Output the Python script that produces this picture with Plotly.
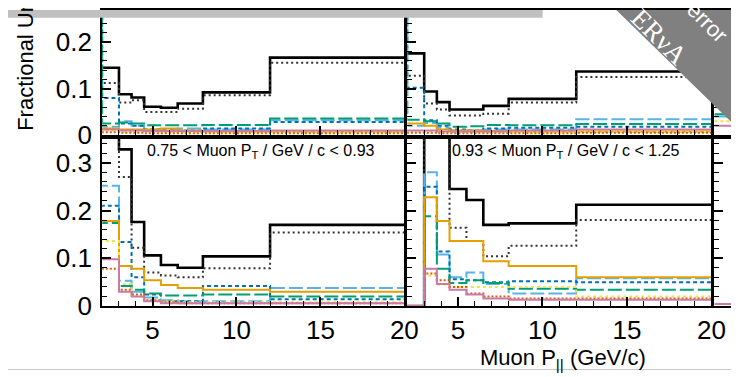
import plotly.graph_objects as go

W, H = 739, 377

# Muon P_parallel bin edges (GeV/c)
pz_edges = [1.5, 2, 3, 3.75, 4.5, 5.5, 6.5, 8, 12, 20]

# ---- top-left panel (lower PT bin, cropped) ----
tl_total = [0.145, 0.145, 0.088, 0.081, 0.061, 0.059, 0.068, 0.092, 0.167]
tl_stat = [0.112, 0.112, 0.070, 0.075, 0.050, 0.050, 0.057, 0.086, 0.156]
tl_lightblue = [0.018, 0.018, 0.030, 0.020, 0.012, 0.012, 0.014, 0.012, 0.032]
tl_blue = [0.600, 0.080, 0.025, 0.020, 0.012, 0.010, 0.010, 0.014, 0.028]
tl_green = [0.600, 0.025, 0.027, 0.025, 0.021, 0.021, 0.021, 0.022, 0.036]
tl_orange = [0.014, 0.014, 0.012, 0.012, 0.012, 0.014, 0.010, 0.008, 0.008]
tl_yellow = [0.010, 0.010, 0.008, 0.008, 0.008, 0.006, 0.006, 0.006, 0.006]
tl_vermilion = [0.006, 0.006, 0.005, 0.005, 0.004, 0.004, 0.004, 0.004, 0.004]
tl_pink = [0.012, 0.012, 0.010, 0.010, 0.009, 0.009, 0.009, 0.009, 0.010]

# ---- top-right panel ----
tr_total = [0.176, 0.176, 0.094, 0.071, 0.055, 0.055, 0.063, 0.078, 0.137]
tr_stat = [0.128, 0.128, 0.068, 0.055, 0.042, 0.042, 0.046, 0.070, 0.125]
tr_lightblue = [0.020, 0.020, 0.026, 0.016, 0.010, 0.010, 0.012, 0.012, 0.034]
tr_blue = [0.600, 0.102, 0.032, 0.020, 0.012, 0.010, 0.014, 0.016, 0.018]
tr_green = [0.600, 0.033, 0.030, 0.025, 0.018, 0.019, 0.022, 0.021, 0.024]
tr_orange = [0.025, 0.025, 0.020, 0.012, 0.010, 0.010, 0.009, 0.008, 0.008]
tr_yellow = [0.008, 0.008, 0.008, 0.007, 0.006, 0.006, 0.006, 0.006, 0.007]
tr_vermilion = [0.005, 0.005, 0.005, 0.004, 0.004, 0.004, 0.004, 0.004, 0.005]
tr_pink = [0.010, 0.010, 0.010, 0.008, 0.008, 0.008, 0.008, 0.010, 0.012]

# ---- bottom-left panel: 0.75 < PT < 0.93 ----
bl_total = [0.500, 0.500, 0.328, 0.176, 0.106, 0.086, 0.080, 0.104, 0.170]
bl_stat = [0.450, 0.450, 0.270, 0.122, 0.070, 0.064, 0.060, 0.079, 0.154]
bl_lightblue = [0.252, 0.252, 0.053, 0.030, 0.018, 0.012, 0.010, 0.010, 0.038]
bl_blue = [0.210, 0.210, 0.134, 0.060, 0.024, 0.010, 0.010, 0.042, 0.014]
bl_green = [0.174, 0.174, 0.042, 0.034, 0.026, 0.022, 0.022, 0.024, 0.020]
bl_orange = [0.178, 0.178, 0.084, 0.078, 0.054, 0.044, 0.038, 0.034, 0.030]
bl_yellow = [0.136, 0.136, 0.046, 0.020, 0.012, 0.010, 0.008, 0.008, 0.008]
bl_vermilion = [0.078, 0.078, 0.034, 0.024, 0.012, 0.008, 0.006, 0.006, 0.006]
bl_pink = [0.098, 0.098, 0.030, 0.020, 0.010, 0.006, 0.006, 0.006, 0.006]

# ---- bottom-right panel: 0.93 < PT < 1.25 ----
br_total = [0.0, 0.0, 0.600, 0.500, 0.245, 0.222, 0.170, 0.173, 0.212]
br_stat = [0.0, 0.0, 0.500, 0.400, 0.164, 0.136, 0.104, 0.126, 0.180]
br_lightblue = [0.0, 0.0, 0.280, 0.108, 0.060, 0.070, 0.046, 0.026, 0.058]
br_blue = [0.0, 0.0, 0.250, 0.114, 0.056, 0.054, 0.050, 0.052, 0.050]
br_green = [0.0, 0.0, 0.188, 0.078, 0.048, 0.054, 0.048, 0.036, 0.034]
br_orange = [0.0, 0.0, 0.228, 0.178, 0.136, 0.136, 0.094, 0.084, 0.060]
br_yellow = [0.0, 0.0, 0.064, 0.045, 0.040, 0.040, 0.040, 0.040, 0.020]
br_vermilion = [0.0, 0.0, 0.068, 0.054, 0.040, 0.026, 0.020, 0.016, 0.016]
br_pink = [0.0, 0.0, 0.078, 0.046, 0.034, 0.024, 0.016, 0.013, 0.013]

# ---- third column (only its first bins are visible at the right edge) ----
c3_edges = [2, 3, 4]
c3t_lightblue = [0.040, 0.040]
c3t_green = [0.045, 0.045]
c3t_yellow = [0.030, 0.030]
c3t_pink = [0.020, 0.020]
c3b_pink = [0.004, 0.004]

panel_labels = ["0.75 < Muon P<sub>T</sub> / GeV / c < 0.93",
                "0.93 < Muon P<sub>T</sub> / GeV / c < 1.25"]
x_ticks = [5, 10, 15, 20]
y_ticks_top = [0, 0.1, 0.2]
y_ticks_bot = [0, 0.1, 0.2, 0.3]

styles = {
    "total": dict(color="black", width=2.6, dash="solid"),
    "stat": dict(color="#333333", width=2, dash="2px,3px"),
    "lightblue": dict(color="#56B4E9", width=2, dash="14px,4px"),
    "blue": dict(color="#0072B2", width=2, dash="4px,3px"),
    "green": dict(color="#009E73", width=2, dash="14px,4px"),
    "orange": dict(color="#E69F00", width=2, dash="solid"),
    "yellow": dict(color="#F0E442", width=2, dash="3px,3px"),
    "vermilion": dict(color="#D55E00", width=2, dash="2px,2px"),
    "pink": dict(color="#CC79A7", width=2, dash="solid"),
}
order = ["total", "stat", "lightblue", "blue", "green", "orange", "yellow", "vermilion", "pink"]

panels = {
    ("x", "y"): dict(total=tl_total, stat=tl_stat, lightblue=tl_lightblue, blue=tl_blue, green=tl_green,
                     orange=tl_orange, yellow=tl_yellow, vermilion=tl_vermilion, pink=tl_pink),
    ("x2", "y2"): dict(total=tr_total, stat=tr_stat, lightblue=tr_lightblue, blue=tr_blue, green=tr_green,
                       orange=tr_orange, yellow=tr_yellow, vermilion=tr_vermilion, pink=tr_pink),
    ("x3", "y3"): dict(total=bl_total, stat=bl_stat, lightblue=bl_lightblue, blue=bl_blue, green=bl_green,
                       orange=bl_orange, yellow=bl_yellow, vermilion=bl_vermilion, pink=bl_pink),
    ("x4", "y4"): dict(total=br_total, stat=br_stat, lightblue=br_lightblue, blue=br_blue, green=br_green,
                       orange=br_orange, yellow=br_yellow, vermilion=br_vermilion, pink=br_pink),
}

fig = go.Figure()


def add_step(edges, vals, style, xa, ya):
    fig.add_trace(go.Scatter(x=list(edges), y=list(vals) + [vals[-1]], mode="lines",
                             line=dict(shape="hv", **styles[style]), xaxis=xa, yaxis=ya,
                             showlegend=False, hoverinfo="skip"))


for (xa, ya), series in panels.items():
    for name in order:
        add_step(pz_edges, series[name], name, xa, ya)

add_step(c3_edges, c3t_lightblue, "lightblue", "x5", "y5")
add_step(c3_edges, c3t_green, "green", "x5", "y5")
add_step(c3_edges, c3t_yellow, "yellow", "x5", "y5")
add_step(c3_edges, c3t_pink, "pink", "x5", "y5")
add_step(c3_edges, c3b_pink, "pink", "x6", "y6")


def px(v):
    return v / W


def py(v):
    return 1 - v / H


FONT = "Liberation Sans, Arial, Helvetica, sans-serif"
tickfont = dict(family=FONT, size=26, color="black")

xl = [px(96), px(404)]
xr = [px(407), px(717)]
x3 = [px(720), 1.0]
yt = [py(131), 1.0]
yb = [py(310), py(135)]


def xaxis(domain, anchor, labels, rng=(2, 20)):
    return dict(domain=domain, anchor=anchor, range=list(rng), showline=True, linecolor="black",
                linewidth=2, mirror=True, ticks="inside", ticklen=9, tickwidth=1.5, tickcolor="black",
                tickvals=x_ticks, ticktext=[str(t) for t in x_ticks], showticklabels=labels,
                tickfont=tickfont, showgrid=False, zeroline=False, ticklabelstandoff=0,
                minor=dict(ticks="inside", ticklen=5, dtick=1, tick0=0, tickcolor="black", tickwidth=1.2,
                           showgrid=False))


def yaxis(domain, anchor, rng, tv, labels):
    return dict(domain=domain, anchor=anchor, range=list(rng), showline=True, linecolor="black",
                linewidth=2, mirror=True, ticks="inside", ticklen=9, tickwidth=1.5, tickcolor="black",
                tickvals=tv, ticktext=["0" if t == 0 else f"{t:.1f}" for t in tv],
                showticklabels=labels, tickfont=tickfont, showgrid=False, zeroline=False,
                ticklabelstandoff=3,
                minor=dict(ticks="inside", ticklen=5, dtick=0.02, tick0=0, tickcolor="black",
                           tickwidth=1.2, showgrid=False))


top_rng = (0, 131 / 486)
bot_rng = (0, 0.35)

fig.update_layout(
    width=W, height=H, margin=dict(l=0, r=0, t=0, b=0),
    paper_bgcolor="white", plot_bgcolor="white",
    xaxis=xaxis(xl, "y", False), yaxis=yaxis(yt, "x", top_rng, y_ticks_top, True),
    xaxis2=xaxis(xr, "y2", False), yaxis2=yaxis(yt, "x2", top_rng, y_ticks_top, False),
    xaxis3=xaxis(xl, "y3", True), yaxis3=yaxis(yb, "x3", bot_rng, y_ticks_bot, True),
    xaxis4=xaxis(xr, "y4", True), yaxis4=yaxis(yb, "x4", bot_rng, y_ticks_bot, False),
    xaxis5=xaxis(x3, "y5", False, (2, 3.1)), yaxis5=yaxis(yt, "x5", top_rng, y_ticks_top, False),
    xaxis6=xaxis(x3, "y6", False, (2, 3.1)), yaxis6=yaxis(yb, "x6", bot_rng, y_ticks_bot, False),
)

ann = []
ann.append(dict(text=panel_labels[0], x=px(140), y=py(148), xref="paper", yref="paper",
                xanchor="left", yanchor="middle", showarrow=False,
                font=dict(family=FONT, size=16, color="black")))
ann.append(dict(text=panel_labels[1], x=px(451), y=py(148), xref="paper", yref="paper",
                xanchor="left", yanchor="middle", showarrow=False,
                font=dict(family=FONT, size=16, color="black")))
ann.append(dict(text="Fractional Uncertainty", textangle=-90, x=px(18), y=py(129), xref="paper",
                yref="paper", xanchor="center", yanchor="bottom", showarrow=False,
                font=dict(family=FONT, size=22, color="black")))
ann.append(dict(text="Muon P<sub>||</sub> (GeV/c)", x=px(652), y=py(365), xref="paper", yref="paper",
                xanchor="right", yanchor="middle", showarrow=False,
                font=dict(family=FONT, size=22, color="black")))
ann.append(dict(text="ER\u03bdA", textangle=45, x=px(664), y=py(28), xref="paper", yref="paper",
                xanchor="center", yanchor="middle", showarrow=False,
                font=dict(family="Liberation Serif, DejaVu Serif, serif", size=27, color="white")))
ann.append(dict(text="error", textangle=45, x=px(713), y=py(13), xref="paper", yref="paper",
                xanchor="center", yanchor="middle", showarrow=False,
                font=dict(family=FONT, size=22, color="white")))
fig.update_layout(annotations=ann)

shapes = [
    dict(type="path", xref="paper", yref="paper",
         path=f"M {px(620)} {py(0)} L {px(739)} {py(119)} L {px(739)} {py(0)} Z",
         fillcolor="#808080", line=dict(width=0), layer="above"),
    dict(type="rect", xref="paper", yref="paper", x0=0, x1=px(545), y0=py(8), y1=1,
         fillcolor="#c0c0c0", line=dict(width=0), layer="above"),
    dict(type="line", xref="paper", yref="paper", x0=0, x1=1, y0=py(376.5), y1=py(376.5),
         line=dict(color="#c8c8c8", width=1), layer="above"),
]
fig.update_layout(shapes=shapes)

fig.write_html("out.html")
